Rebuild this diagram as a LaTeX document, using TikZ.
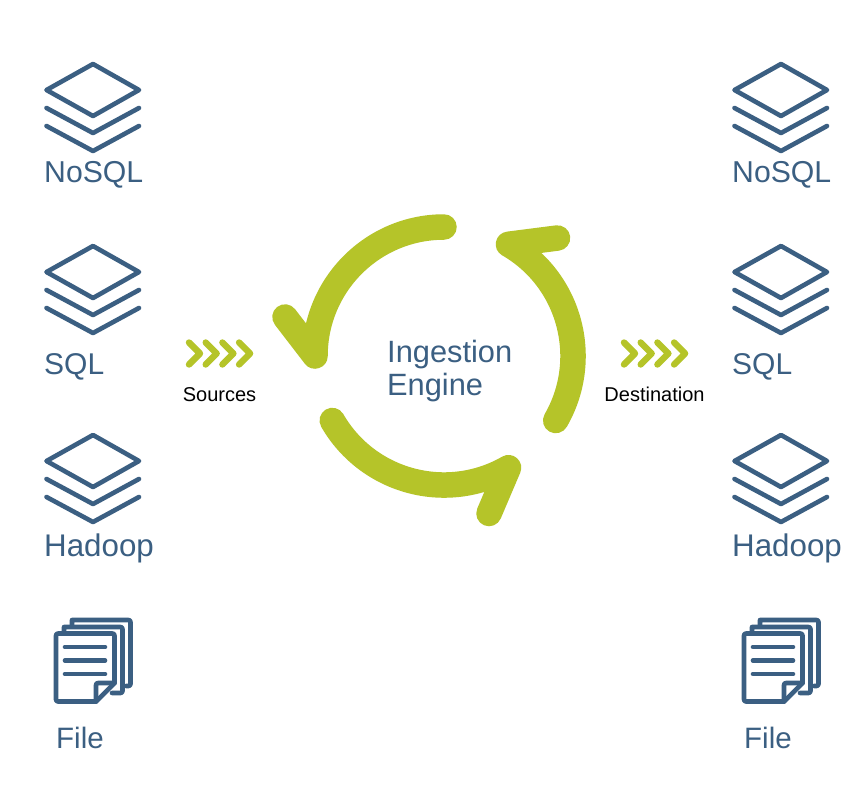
\documentclass[tikz,border=0pt]{standalone}
\usepackage{fontspec}
\setmainfont{Liberation Sans}
\definecolor{navy}{HTML}{3B5F82}
\definecolor{lime}{HTML}{B5C429}
\tikzset{
  x=1pt,y=-1pt,
  iconline/.style={draw=navy,line width=4.6pt,line join=round,line cap=round},
  ringarrow/.style={draw=lime,line width=25.5pt,line join=round,line cap=round},
  chevron/.style={draw=lime,line width=6.4pt,line join=round,line cap=round},
  biglabel/.style={anchor=base west,inner sep=0pt,text=navy,font=\fontsize{30}{36}\selectfont},
  widelabel/.style={biglabel,font=\fontsize{31.3}{36}\selectfont},
  smalllabel/.style={anchor=base,inner sep=0pt,text=black,font=\fontsize{20}{24}\selectfont},
  % three stacked layers: a diamond above two chevrons
  stackicon/.pic={
    \path[iconline] (93,64) -- (139,90) -- (93,116) -- (46.5,90) -- cycle;
    \path[iconline] (46.5,108) -- (93,133) -- (139,108);
    \path[iconline] (46.5,126) -- (93,151) -- (139,126);
  },
  % three overlapping sheets with a folded corner on the front one
  fileicon/.pic={
    \path[iconline] (72,625) -- (72,620) [rounded corners=2pt] -- (130.5,620) -- (130.5,686) -- (126,686);
    \path[iconline] (64,632) -- (64,627) [rounded corners=2pt] -- (122.5,627) -- (122.5,693) -- (112,693);
    \path[iconline,rounded corners=2pt] (96,701.5) -- (56,701.5) -- (56,633.5) -- (114.5,633.5) -- (114.5,683);
    \path[iconline] (114.5,683) -- (96,701.5);
    \path[iconline,rounded corners=2pt] (96,701.5) -- (96,683) -- (114.5,683);
    \path[iconline] (65,647) -- (105,647);
    \path[iconline] (65,660.5) -- (105,660.5);
    \path[iconline] (65,674) -- (105,674);
  },
  % four chevrons in a row, pointing right
  chevrons/.pic={
    \foreach \d in {0,16.7,33.4,50.1}
      \path[chevron] (189+\d,342.5) -- (200+\d,353.5) -- (189+\d,364.5);
  }
}
\begin{document}
\begin{tikzpicture}
\useasboundingbox (0,0) rectangle (860,785);
\fill[white] (0,0) rectangle (860,785);

% left-hand column of sources
\pic at (0,0) {stackicon};
\pic at (0,182) {stackicon};
\pic at (0,371) {stackicon};
\pic at (0,0) {fileicon};
\node[biglabel,font=\fontsize{30.2}{36}\selectfont] (srcnosql) at (44,182) {NoSQL};
\node[biglabel] (srcsql) at (44,374) {SQL};
\node[widelabel] (srchadoop) at (44,556) {Hadoop};
\node[biglabel,font=\fontsize{29.5}{36}\selectfont] (srcfile) at (56,748) {File};

% right-hand column of destinations
\pic at (688,0) {stackicon};
\pic at (688,182) {stackicon};
\pic at (688,371) {stackicon};
\pic at (688,0) {fileicon};
\node[biglabel,font=\fontsize{30.2}{36}\selectfont] (dstnosql) at (732,182) {NoSQL};
\node[biglabel] (dstsql) at (732,374) {SQL};
\node[widelabel] (dsthadoop) at (732,556) {Hadoop};
\node[biglabel,font=\fontsize{29.5}{36}\selectfont] (dstfile) at (744,748) {File};

% flow markers and their captions
\pic at (0,0) {chevrons};
\pic at (435,0) {chevrons};
\node[smalllabel] (sources) at (219.5,401) {Sources};
\node[smalllabel] (destination) at (654.5,401) {Destination};

% circular arrows around the engine
\coordinate (ring) at (444,356);
\coordinate (tipa) at (285,317);
\coordinate (tipb) at (557.5,238);
\coordinate (tipc) at (489,513.5);
\path[ringarrow] ([shift={(-90:129)}]ring) arc[start angle=-90,end angle=-180,radius=129] -- (tipa);
\path[ringarrow] ([shift={(30:129)}]ring) arc[start angle=30,end angle=-60,radius=129] -- (tipb);
\path[ringarrow] ([shift={(150:129)}]ring) arc[start angle=150,end angle=60,radius=129] -- (tipc);

\node[biglabel,font=\fontsize{30.8}{36}\selectfont] (ingestion) at (387,362.5) {Ingestion};
\node[biglabel,font=\fontsize{30.8}{36}\selectfont] (engine) at (387,395) {Engine};
\end{tikzpicture}
\end{document}
